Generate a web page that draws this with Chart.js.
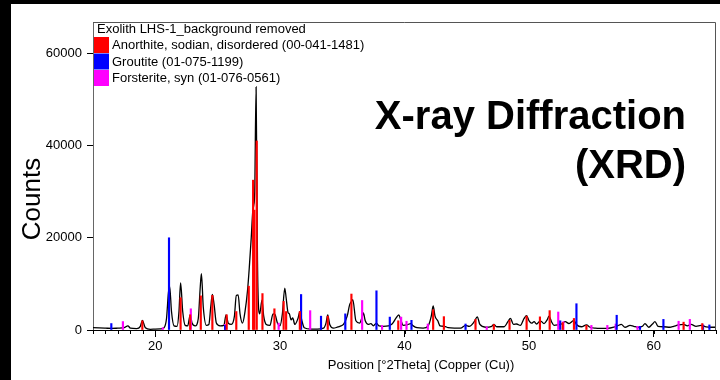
<!DOCTYPE html>
<html>
<head>
<meta charset="utf-8">
<script src="https://cdn.jsdelivr.net/npm/chart.js@4"></script>
<style>
  html, body { margin: 0; padding: 0; background: #000; }
  #wrap { position: absolute; left: 11px; top: 4px; width: 709px; height: 376px; background: #fff; }
</style>
</head>
<body>
<div id="wrap"><canvas id="xrdChart" width="709" height="376"></canvas></div>
<script>
// measured scan, background removed (2theta / counts)
const scanTheta = [
  15.0, 15.5, 16.0, 16.5, 17.0, 17.5, 17.8, 18.0, 18.5, 18.8,
  18.96, 19.2, 19.6, 20.0, 20.4, 20.7, 20.9, 21.05, 21.15, 21.3,
  21.5, 21.75, 21.9, 22.03, 22.2, 22.4, 22.6, 22.8, 22.95, 23.2,
  23.45, 23.6, 23.7, 23.85, 24.1, 24.3, 24.45, 24.58, 24.72, 24.9,
  25.2, 25.5, 25.68, 25.85, 26.1, 26.35, 26.5, 26.65, 26.8, 27.0,
  27.2, 27.4, 27.55, 27.7, 27.82, 27.9, 27.98, 28.09, 28.2, 28.3,
  28.38, 28.56, 28.7, 28.9, 29.2, 29.45, 29.6, 29.8, 30.0, 30.2,
  30.39, 30.5, 30.65, 30.76, 30.9, 31.03, 31.2, 31.45, 31.6, 31.75,
  31.95, 32.5, 33.0, 33.5, 33.7, 33.84, 34.0, 34.3, 34.6, 34.9,
  35.1, 35.4, 35.6, 35.75, 35.85, 36.1, 36.4, 36.6, 36.7, 36.85,
  37.1, 37.3, 37.5, 37.75, 37.95, 38.3, 38.7, 39.0, 39.3, 39.54,
  39.7, 39.9, 40.2, 40.5, 40.7, 41.0, 41.5, 41.9, 42.15, 42.3,
  42.45, 42.67, 42.85, 43.2, 43.5, 44.0, 44.5, 44.9, 45.2, 45.6,
  45.84, 46.05, 46.5, 47.0, 47.17, 47.4, 48.0, 48.3, 48.5, 48.75,
  49.0, 49.3, 49.6, 49.8, 50.0, 50.2, 50.4, 50.6, 50.9, 51.2,
  51.45, 51.6, 51.8, 52.0, 52.3, 52.6, 52.9, 53.2, 53.6, 53.8,
  54.2, 54.6, 54.9, 55.3, 55.8, 56.3, 56.8, 57.1, 57.4, 57.7,
  58.1, 58.4, 58.8, 59.1, 59.3, 59.6, 59.9, 60.1, 60.35, 60.8,
  61.3, 61.6, 62.0, 62.4, 62.7, 63.0, 63.4, 63.8, 64.2, 64.6, 65.0
];
const scanCounts = [
  500, 450, 400, 350, 400, 500, 900, 400, 300, 800,
  2100, 500, 150, 200, 250, 500, 2500, 8000, 9500, 4000,
  900, 800, 4000, 10200, 4000, 1000, 900, 3300, 1500, 900,
  2500, 9000, 12200, 5000, 1000, 1200, 5000, 7700, 5500, 1500,
  900, 1000, 3300, 1500, 1200, 3000, 7500, 7600, 3500, 1500,
  4000, 8500, 13800, 20000, 25700, 27000, 30000, 52700, 15200, 4400,
  3500, 6500, 3000, 1200, 1000, 3500, 3400, 1500, 900, 3500,
  9100, 7000, 3800, 3500, 2200, 2600, 1200, 2500, 4000, 2200,
  500, 200, 200, 400, 1500, 3300, 1200, 400, 600, 900,
  1200, 3000, 5500, 6200, 6600, 2000, 1500, 2800, 3700, 2000,
  1200, 1400, 900, 1500, 900, 800, 900, 1300, 2500, 3300,
  2200, 1000, 1100, 1400, 900, 500, 400, 900, 3000, 5200,
  3000, 2000, 900, 800, 500, 400, 400, 1000, 800, 1800,
  2850, 1200, 600, 800, 1200, 700, 700, 1800, 2500, 1200,
  1300, 1000, 2500, 3100, 2000, 1500, 1800, 1300, 2000, 1400,
  2200, 3000, 1800, 1000, 1100, 1300, 1800, 1400, 2100, 1200,
  700, 1100, 600, 400, 350, 350, 600, 900, 1200, 600,
  1000, 800, 600, 800, 1400, 600, 1300, 1800, 800, 700,
  600, 800, 1100, 1200, 900, 1200, 800, 1000, 700, 600, 600
];

// reference patterns (stick positions / intensities)
const anorthiteTheta = [18.96, 22.03, 22.8, 23.65, 24.58, 25.73, 26.5, 27.5, 27.85, 27.95,
  28.14, 28.6, 29.56, 30.3, 30.5, 31.6, 33.84, 35.74, 39.5, 42.3,
  43.16, 45.7, 47.17, 48.43, 49.8, 50.87, 51.65, 52.7, 53.6, 54.6, 62.4, 63.9];
const anorthiteCounts = [2000, 7000, 3300, 7400, 7500, 3300, 4000, 9500, 32500, 26000,
  41000, 7900, 4600, 6200, 4000, 4000, 3000, 7800, 2000, 4400,
  2900, 2300, 1200, 2100, 3000, 2850, 4200, 1600, 2500, 1000, 1700, 1400];

const groutiteTheta = [16.47, 21.1, 25.6, 31.7, 33.3, 35.25, 37.75, 38.82, 40.56, 44.9,
  52.5, 53.8, 57.03, 58.9, 60.78, 63.96, 64.47];
const groutiteCounts = [1400, 20000, 1000, 7700, 3000, 3500, 8500, 2800, 2100, 1300,
  2000, 5700, 3200, 800, 2300, 1100, 1100];

const forsteriteTheta = [17.4, 20.6, 22.85, 25.6, 29.9, 32.43, 36.6, 38.2, 39.73, 40.16,
  41.87, 46.6, 52.34, 52.75, 55.0, 56.28, 56.95, 58.7, 62.0, 62.9];
const forsteriteCounts = [1830, 500, 4600, 1200, 1500, 4200, 6400, 1000, 2800, 1900,
  1300, 700, 3900, 1800, 1000, 1000, 1300, 800, 1900, 2300];

const scanName = 'Exolith LHS-1_background removed';
const phaseNames = ['Anorthite, sodian, disordered (00-041-1481)', 'Groutite (01-075-1199)', 'Forsterite, syn (01-076-0561)'];
const phaseColors = ['#ff0000', '#0000ff', '#ff00ff'];

const xTicks = [20, 30, 40, 50, 60];
const yTicks = [0, 20000, 40000, 60000];

const FONT = "'Liberation Sans', Arial, sans-serif";

function toPoints(xs, ys) {
  return xs.map((v, i) => ({x: v, y: ys[i]}));
}

// header, phase key, big title and axis titles
const decorations = {
  id: 'decorations',
  afterDraw(chart) {
    const ctx = chart.ctx;
    const a = chart.chartArea;
    const x = chart.scales.x;
    ctx.save();

    // frame on top and right
    ctx.strokeStyle = '#555';
    ctx.lineWidth = 1;
    ctx.beginPath();
    ctx.moveTo(a.left, a.top + 0.5);
    ctx.lineTo(a.right - 0.5, a.top + 0.5);
    ctx.lineTo(a.right - 0.5, a.bottom);
    ctx.stroke();

    // minor ticks every degree
    ctx.strokeStyle = '#000';
    ctx.beginPath();
    for (let v = Math.ceil(x.min); v <= x.max; v++) {
      const px = Math.round(x.getPixelForValue(v)) + 0.5;
      ctx.moveTo(px, a.bottom);
      ctx.lineTo(px, a.bottom + 4);
    }
    ctx.stroke();

    // key
    ctx.fillStyle = '#000';
    ctx.font = '13px ' + FONT;
    ctx.textAlign = 'left';
    ctx.textBaseline = 'middle';
    ctx.fillText(scanName, a.left + 4, a.top + 7);
    phaseNames.forEach((name, i) => {
      ctx.fillStyle = phaseColors[i];
      ctx.fillRect(a.left + 1, a.top + 15 + i * 16.5, 15, 16);
      ctx.fillStyle = '#000';
      ctx.fillText(name, a.left + 19, a.top + 23.5 + i * 16.5);
    });

    // big title
    ctx.font = 'bold 40px ' + FONT;
    ctx.textAlign = 'right';
    ctx.textBaseline = 'alphabetic';
    ctx.fillText('X-ray Diffraction', a.right - 30, a.top + 107);
    ctx.fillText('(XRD)', a.right - 30, a.top + 156);

    // axis titles
    ctx.font = '13px ' + FONT;
    ctx.textAlign = 'center';
    ctx.textBaseline = 'middle';
    ctx.fillText('Position [°2Theta] (Copper (Cu))', 410, 361);

    ctx.translate(29, 195);
    ctx.rotate(-Math.PI / 2);
    ctx.font = '26px ' + FONT;
    ctx.textBaseline = 'alphabetic';
    ctx.fillText('Counts', 0, 0);
    ctx.restore();
  }
};

new Chart('xrdChart', {
  type: 'bar',
  data: {
    datasets: [
      {label: phaseNames[0], data: toPoints(anorthiteTheta, anorthiteCounts), backgroundColor: phaseColors[0], order: 1},
      {label: phaseNames[1], data: toPoints(groutiteTheta, groutiteCounts), backgroundColor: phaseColors[1], order: 2},
      {label: phaseNames[2], data: toPoints(forsteriteTheta, forsteriteCounts), backgroundColor: phaseColors[2], order: 3},
      {
        type: 'line',
        label: scanName,
        data: toPoints(scanTheta, scanCounts),
        borderColor: '#000',
        borderWidth: 1.3,
        pointRadius: 0,
        cubicInterpolationMode: 'monotone',
        fill: false,
        order: 5
      }
    ]
  },
  options: {
    responsive: false,
    animation: false,
    events: [],
    layout: {padding: {top: 18, right: 4, left: 0, bottom: 0}},
    datasets: {bar: {barThickness: 1.5, grouped: false, borderWidth: 0}},
    plugins: {legend: {display: false}, tooltip: {enabled: false}},
    scales: {
      x: {
        type: 'linear',
        min: 15,
        max: 65,
        offset: false,
        afterBuildTicks: s => { s.ticks = xTicks.map(v => ({value: v})); },
        afterFit: s => { s.height = 50; },
        grid: {drawOnChartArea: false, offset: false, tickLength: 7, color: '#000'},
        border: {color: '#000'},
        ticks: {font: {family: FONT, size: 13}, color: '#000', padding: 2, maxRotation: 0, autoSkip: false}
      },
      y: {
        min: 0,
        max: 66800,
        afterBuildTicks: s => { s.ticks = yTicks.map(v => ({value: v})); },
        afterFit: s => { s.width = 82; },
        grid: {drawOnChartArea: false, tickLength: 6, color: '#000'},
        border: {color: '#666'},
        ticks: {font: {family: FONT, size: 13}, color: '#000', padding: 5, callback: v => String(v)}
      }
    }
  },
  plugins: [decorations]
});
</script>
</body>
</html>
